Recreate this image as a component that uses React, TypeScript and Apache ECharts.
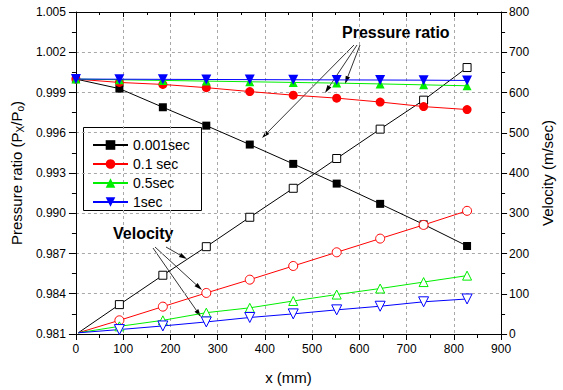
import React, { useEffect, useRef } from "react";
import * as echarts from "echarts";

// x positions (mm)
const X_MM = [0, 92, 184, 276, 368, 460, 552, 644, 736, 828];

// Pressure ratio (left axis)
const P_0001 = [1.0, 0.99929, 0.9979, 0.99653, 0.99512, 0.99368, 0.99221, 0.9907, 0.98917, 0.98756];
const P_01 = [1.0, 0.99975, 0.9996, 0.99936, 0.99907, 0.9988, 0.99858, 0.99829, 0.99795, 0.99773];
const P_05 = [1.0, 0.99995, 0.9999, 0.99985, 0.9998, 0.99975, 0.9997, 0.99964, 0.99957, 0.9995];
const P_1 = [1.0, 0.99999, 0.99998, 0.99997, 0.99996, 0.99995, 0.99994, 0.99993, 0.99992, 0.9999];

// Velocity (right axis); first point at the inlet has no marker
const V_START_X = 5;
const V_0001 = [3, 73, 146, 217, 290, 362, 436, 509, 581, 662];
const V_01 = [3, 34, 68, 102, 135, 169, 203, 237, 271, 306];
const V_05 = [3, 19, 34, 53, 65, 82, 98, 113, 129, 145];
const V_1 = [3, 11, 20, 30, 41, 50, 60, 69, 80, 87];

const SERIES_NAMES = ["0.001sec", "0.1 sec", "0.5sec", "1sec"];
const COLORS = ["#000000", "#ff0000", "#00ee00", "#0000ff"];

const FONT = "Liberation Sans, Arial, Helvetica, sans-serif";
const DOWN_TRI = "path://M0,0L10,0L5,9Z";

function arrow(x1: number, y1: number, x2: number, y2: number) {
  const dx = x2 - x1;
  const dy = y2 - y1;
  const len = Math.sqrt(dx * dx + dy * dy);
  const ux = dx / len;
  const uy = dy / len;
  const hl = 8;
  const hw = 2.3;
  const bx = x2 - ux * hl;
  const by = y2 - uy * hl;
  return [
    {
      type: "line",
      shape: { x1, y1, x2: bx, y2: by },
      style: { stroke: "#000", lineWidth: 0.8 },
      silent: true,
    },
    {
      type: "polygon",
      shape: {
        points: [
          [x2, y2],
          [bx - uy * hw, by + ux * hw],
          [bx + uy * hw, by - ux * hw],
        ],
      },
      style: { fill: "#000" },
      silent: true,
    },
  ];
}

export default function App() {
  const ref = useRef<HTMLDivElement>(null);

  useEffect(() => {
    if (!ref.current) return;
    const chart = echarts.init(ref.current, null, { renderer: "svg" });

    const pData = [P_0001, P_01, P_05, P_1];
    const vData = [V_0001, V_01, V_05, V_1];
    const pSymbols = ["rect", "circle", "triangle", DOWN_TRI];
    const pSizes = [8, 9, 9, 10];

    const series: any[] = [];
    pData.forEach((arr, i) => {
      series.push({
        name: SERIES_NAMES[i],
        type: "line",
        xAxisIndex: 0,
        yAxisIndex: 0,
        data: arr.map((v, j) => [X_MM[j], v]),
        symbol: pSymbols[i],
        symbolSize: pSizes[i],
        showAllSymbol: true,
        lineStyle: { color: COLORS[i], width: 1 },
        itemStyle: { color: COLORS[i], borderWidth: 0 },
        z: 3 + i,
      });
    });
    vData.forEach((arr, i) => {
      series.push({
        name: "v " + SERIES_NAMES[i],
        type: "line",
        xAxisIndex: 0,
        yAxisIndex: 1,
        data: arr.map((v, j) =>
          j === 0 ? { value: [V_START_X, v], symbol: "none" } : { value: [X_MM[j], v] }
        ),
        symbol: pSymbols[i],
        symbolSize: pSizes[i],
        showAllSymbol: true,
        lineStyle: { color: COLORS[i], width: 1 },
        itemStyle: { color: "#ffffff", borderColor: COLORS[i], borderWidth: 1 },
        z: 3,
      });
    });

    const graphics: any[] = [
      {
        type: "rect",
        shape: { x: 83.5, y: 127.5, width: 118, height: 83 },
        style: { fill: "none", stroke: "#000", lineWidth: 1 },
        z: 0,
        silent: true,
      },
      {
        type: "text",
        x: 342,
        y: 32,
        style: {
          text: "Pressure ratio",
          font: "bold 16px " + FONT,
          fill: "#000",
          textVerticalAlign: "middle",
          verticalAlign: "middle",
        },
      },
      {
        type: "text",
        x: 113,
        y: 233,
        style: {
          text: "Velocity",
          font: "bold 16px " + FONT,
          fill: "#000",
          textVerticalAlign: "middle",
          verticalAlign: "middle",
        },
      },
      ...arrow(354, 45, 262, 138),
      ...arrow(357, 45, 325, 93),
      ...arrow(360, 45, 345, 84),
      ...arrow(166, 247, 187, 259),
      ...arrow(155, 247, 202, 290),
      ...arrow(153, 248, 201, 317),
    ];

    const gridLine = { show: true, lineStyle: { color: "#a8a8a8", type: [3, 3] as any, width: 1 } };

    chart.setOption({
      animation: false,
      backgroundColor: "#ffffff",
      textStyle: { fontFamily: FONT },
      grid: { left: 73, right: 49, top: 12, bottom: 50, containLabel: false },
      legend: {
        data: SERIES_NAMES,
        orient: "vertical",
        left: 92,
        top: 138,
        padding: 0,
        itemWidth: 35,
        itemHeight: 12,
        itemGap: 5,
        textStyle: { fontSize: 14, color: "#000", fontFamily: FONT },
      },
      xAxis: [
        {
          type: "value",
          min: 0,
          max: 900,
          interval: 100,
          position: "bottom",
          name: "x (mm)",
          nameLocation: "middle",
          nameGap: 36,
          nameTextStyle: { fontSize: 15, color: "#000", fontFamily: FONT },
          axisLine: { show: true, onZero: false, lineStyle: { color: "#000", width: 1 } },
          axisTick: { show: true, inside: false, length: 6, lineStyle: { color: "#000" } },
          minorTick: { show: true, splitNumber: 2, length: 4, lineStyle: { color: "#000" } },
          axisLabel: { fontSize: 12, color: "#000", margin: 9, fontFamily: FONT },
          splitLine: gridLine,
        },
        {
          type: "value",
          min: 0,
          max: 900,
          interval: 100,
          position: "top",
          axisLine: { show: true, onZero: false, lineStyle: { color: "#000", width: 1 } },
          axisTick: { show: true, inside: true, length: 5, lineStyle: { color: "#000" } },
          minorTick: { show: true, splitNumber: 2, length: 3, lineStyle: { color: "#000" } },
          axisLabel: { show: false },
          splitLine: { show: false },
        },
      ],
      yAxis: [
        {
          type: "value",
          min: 0.981,
          max: 1.005,
          interval: 0.003,
          position: "left",
          name: "Pressure ratio (P{sub|X}/P{sub|o})",
          nameLocation: "middle",
          nameRotate: 90,
          nameGap: 50,
          nameTextStyle: {
            fontSize: 15,
            color: "#000",
            fontFamily: FONT,
            rich: {
              sub: { fontSize: 10, fontFamily: FONT, color: "#000", padding: [7, 0, 0, 0], lineHeight: 10 },
            },
          },
          axisLine: { show: true, onZero: false, lineStyle: { color: "#000", width: 1 } },
          axisTick: { show: true, inside: false, length: 7, lineStyle: { color: "#000" } },
          minorTick: { show: true, splitNumber: 2, length: 4, lineStyle: { color: "#000" } },
          axisLabel: {
            fontSize: 12,
            color: "#000",
            margin: 10,
            fontFamily: FONT,
            formatter: (v: number) => v.toFixed(3),
          },
          splitLine: gridLine,
        },
        {
          type: "value",
          min: 0,
          max: 800,
          interval: 100,
          position: "right",
          name: "Velocity (m/sec)",
          nameLocation: "middle",
          nameRotate: 90,
          nameGap: 32,
          nameTextStyle: { fontSize: 15, color: "#000", fontFamily: FONT },
          axisLine: { show: true, onZero: false, lineStyle: { color: "#000", width: 1 } },
          axisTick: { show: true, inside: false, length: 6, lineStyle: { color: "#000" } },
          minorTick: { show: true, splitNumber: 2, length: 4, lineStyle: { color: "#000" } },
          axisLabel: { fontSize: 12, color: "#000", margin: 8, fontFamily: FONT },
          splitLine: { show: false },
        },
      ],
      series,
      graphic: graphics,
    });

    return () => chart.dispose();
  }, []);

  return (
    <div
      ref={ref}
      style={{ position: "fixed", left: 0, top: 0, width: 563, height: 390, background: "#fff" }}
    />
  );
}
